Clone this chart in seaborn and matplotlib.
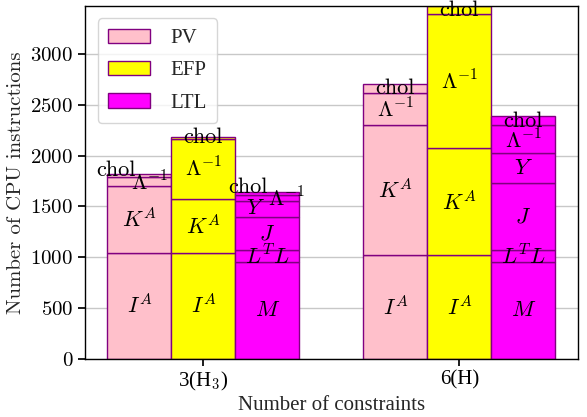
import numpy as np
import matplotlib
matplotlib.use("Agg")
import matplotlib.pyplot as plt
import seaborn as sns

# ---- data ----
groups = ["3(H$_3$)", "6(H)"]
methods = ["PV", "EFP", "LTL"]

pv_IA = [1045, 1020]
pv_KA = [655, 1280]
pv_Linv = [92, 316]
pv_chol = [30, 92]

efp_IA = [1045, 1020]
efp_KA = [530, 1055]
efp_Linv = [593, 1318]
efp_chol = [20, 85]

ltl_M = [949, 949]
ltl_LTL = [122, 118]
ltl_J = [326, 666]
ltl_Y = [154, 290]
ltl_Linv = [67, 276]
ltl_chol = [26, 92]

seg_names_pv = ["$I^A$", "$K^A$", r"$\Lambda^{-1}$", "chol"]
seg_names_efp = ["$I^A$", "$K^A$", r"$\Lambda^{-1}$", "chol"]
seg_names_ltl = ["$M$", "$L^TL$", "$J$", "$Y$", r"$\Lambda^{-1}$", "chol"]

sns.set_theme(style="whitegrid")
plt.rcParams.update({
    "font.family": ["cmr10", "DejaVu Serif"],
    "mathtext.fontset": "cm",
    "axes.unicode_minus": False,
    "axes.formatter.use_mathtext": True,
    "axes.edgecolor": "black",
    "axes.linewidth": 1.0,
    "grid.color": "#c8c8c8",
    "grid.linewidth": 1.0,
    "xtick.bottom": True,
    "ytick.left": True,
    "xtick.major.size": 5,
    "ytick.major.size": 5,
    "xtick.color": "black",
    "ytick.color": "black",
})
times = ["Liberation Serif", "DejaVu Serif"]

fig = plt.figure(figsize=(5.87, 4.17), dpi=100)
ax = fig.add_axes([0.145, 0.14, 0.84, 0.846])

colors = {"PV": "#FFC0CB", "EFP": "#FFFF00", "LTL": "#FF00FF"}
edge = "#800080"
width = 0.25
x = np.arange(len(groups))

stacks = {
    "PV": ([pv_IA, pv_KA, pv_Linv, pv_chol], seg_names_pv),
    "EFP": ([efp_IA, efp_KA, efp_Linv, efp_chol], seg_names_efp),
    "LTL": ([ltl_M, ltl_LTL, ltl_J, ltl_Y, ltl_Linv, ltl_chol], seg_names_ltl),
}

# label tweaks (dx in data x units, dy in data y units) for crowded small segments
tweaks = {
    ("PV", 0, "chol"): (-0.09, 50),
    ("PV", 0, r"$\Lambda^{-1}$"): (0.04, -10),
    ("LTL", 0, "chol"): (-0.075, 55),
    ("LTL", 0, r"$\Lambda^{-1}$"): (0.075, -10),
    ("LTL", 0, "$Y$"): (-0.045, 10),
    ("LTL", 1, r"$\Lambda^{-1}$"): (0, -15),
}

max_total = 0
for mi, m in enumerate(methods):
    segs, names = stacks[m]
    pos = x + (mi - 1) * width
    bottom = np.zeros(len(groups))
    for si, (vals, name) in enumerate(zip(segs, names)):
        vals = np.array(vals, dtype=float)
        ax.bar(pos, vals, width, bottom=bottom, color=colors[m], edgecolor=edge,
               linewidth=1.0, label=m if si == 0 else None, zorder=2)
        for gi in range(len(groups)):
            dx, dy = tweaks.get((m, gi, name), (0, 0))
            ax.text(pos[gi] + dx, bottom[gi] + vals[gi] / 2 + dy, name,
                    ha="center", va="center", fontsize=16, color="black", zorder=3)
        bottom = bottom + vals
    max_total = max(max_total, bottom.max())

ax.set_ylim(0, max_total)
ax.set_xlim(-0.462, 1.464)
ax.set_xticks(x)
ax.set_xticklabels(groups, fontsize=15, family=times)
ax.set_yticks(np.arange(0, 3001, 500))
ax.tick_params(axis="y", labelsize=15)
ax.set_xlabel("Number of constraints", fontsize=15, labelpad=2, family=times)
ax.set_ylabel("Number of CPU instructions", fontsize=15)
ax.grid(axis="x", visible=False)
ax.grid(axis="y", visible=True, zorder=0)
ax.set_axisbelow(True)
for s in ax.spines.values():
    s.set_color("black")

ax.legend(loc="upper left", prop={"family": times, "size": 15}, fancybox=True,
          framealpha=0.8, labelspacing=0.6, borderpad=0.5, handlelength=2.0,
          handletextpad=1.0, borderaxespad=0.6)

fig.savefig("out.png", dpi=100)
